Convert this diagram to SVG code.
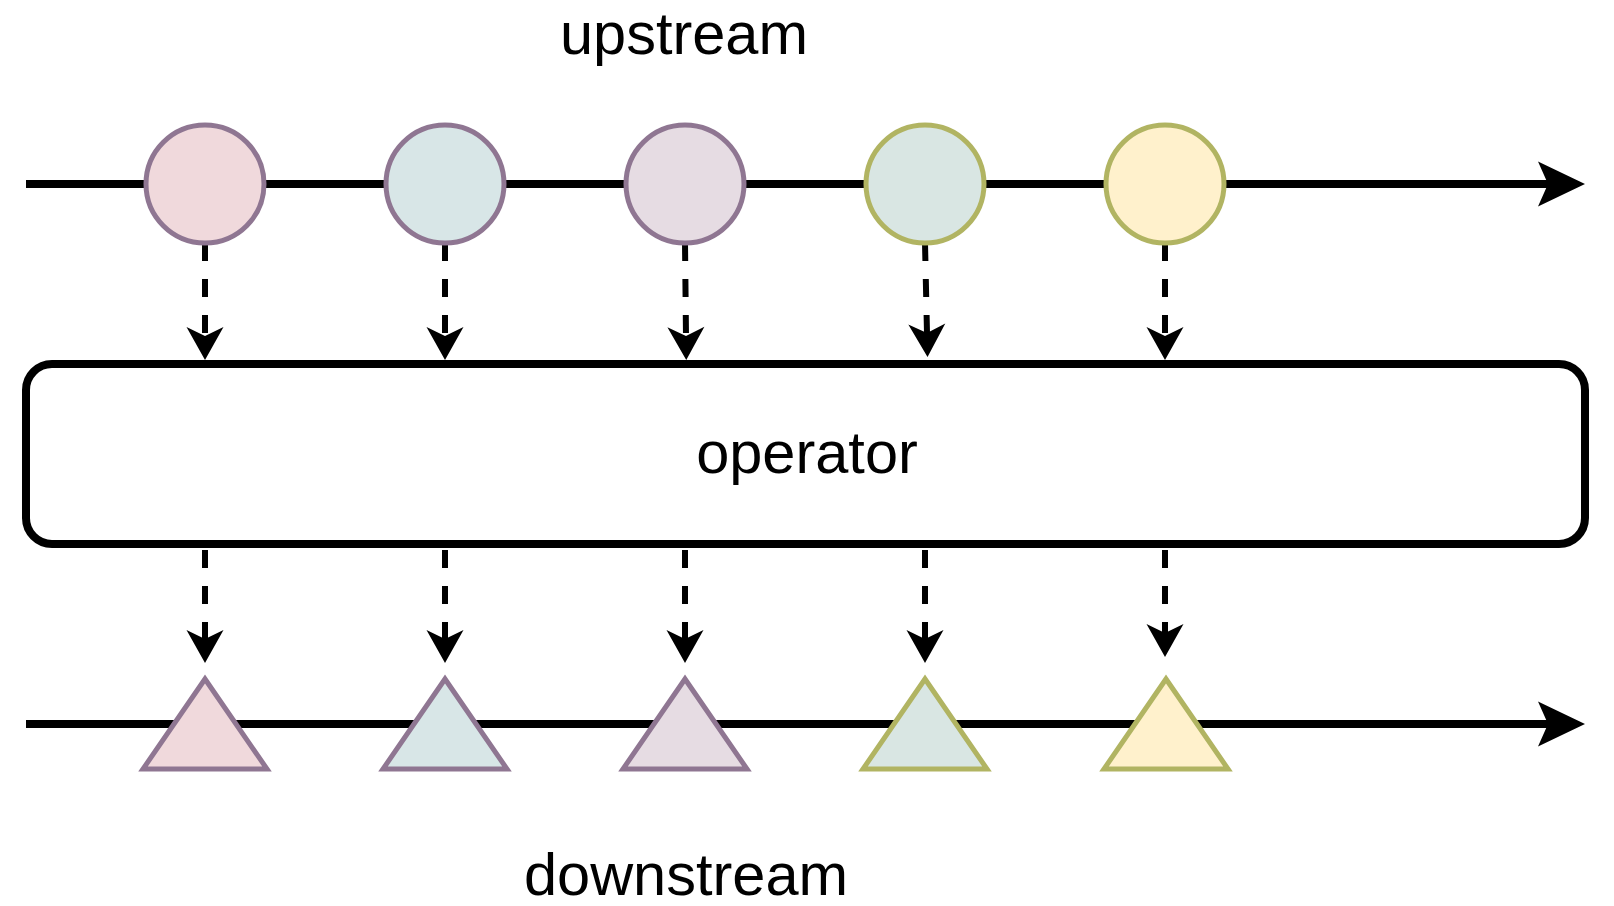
<svg xmlns="http://www.w3.org/2000/svg" width="1614" height="906" viewBox="0 0 1614 906">
<style>
.axis{stroke:#000;stroke-width:8;fill:none}
.flow{stroke:#000;stroke-width:6;fill:none;stroke-dasharray:18 18}
.lbl{font-family:"Liberation Sans",Arial,Helvetica,sans-serif;font-size:59.5px;fill:#000;text-anchor:middle}
.purple{stroke:#8f7692;stroke-width:5}
.olive{stroke:#b1b462;stroke-width:5}
</style>
<defs>
<marker id="bigArrow" markerUnits="userSpaceOnUse" viewBox="-48 -23 49 46" markerWidth="49" markerHeight="46" refX="-37" refY="0" orient="auto">
<path d="M0,0 L-47,-22.5 L-37,0 L-47,22.5 Z" fill="#000"/>
</marker>
<marker id="smallArrow" markerUnits="userSpaceOnUse" viewBox="-35 -19 36 38" markerWidth="36" markerHeight="38" refX="-24" refY="0" orient="auto">
<path d="M0,0 L-33,-18.5 L-24,0 L-33,18.5 Z" fill="#000"/>
</marker>
</defs>
<rect width="1614" height="906" fill="#fff"/>
<g id="timelines">
<line class="axis" x1="26" y1="184" x2="1548" y2="184" marker-end="url(#bigArrow)"/>
<line class="axis" x1="26" y1="724" x2="1548" y2="724" marker-end="url(#bigArrow)"/>
</g>
<g id="connectors">
<line class="flow" x1="205" y1="243" x2="205" y2="336" marker-end="url(#smallArrow)"/>
<line class="flow" x1="445" y1="243" x2="445" y2="336" marker-end="url(#smallArrow)"/>
<line class="flow" x1="685" y1="243" x2="686" y2="336" marker-end="url(#smallArrow)"/>
<line class="flow" x1="925" y1="243" x2="927" y2="333" marker-end="url(#smallArrow)"/>
<line class="flow" x1="1165" y1="243" x2="1165" y2="336" marker-end="url(#smallArrow)"/>
<line class="flow" x1="205" y1="550" x2="205" y2="639" marker-end="url(#smallArrow)"/>
<line class="flow" x1="445" y1="550" x2="445" y2="639" marker-end="url(#smallArrow)"/>
<line class="flow" x1="685" y1="550" x2="685" y2="639" marker-end="url(#smallArrow)"/>
<line class="flow" x1="925" y1="550" x2="925" y2="639" marker-end="url(#smallArrow)"/>
<line class="flow" x1="1165" y1="550" x2="1165" y2="633" marker-end="url(#smallArrow)"/>
</g>
<g id="up1"><circle class="purple" cx="205" cy="184" r="59" fill="#f0d9dc"/></g>
<g id="up2"><circle class="purple" cx="445" cy="184" r="59" fill="#d8e6e7"/></g>
<g id="up3"><circle class="purple" cx="685" cy="184" r="59" fill="#e6dce3"/></g>
<g id="up4"><circle class="olive" cx="925" cy="184" r="59" fill="#d9e6e3"/></g>
<g id="up5"><circle class="olive" cx="1165" cy="184" r="59" fill="#fff1cc"/></g>
<g id="operator">
<rect x="26" y="364" width="1559" height="180" rx="26" ry="26" fill="#fff" stroke="#000" stroke-width="8"/>
<text class="lbl" x="807" y="473">operator</text>
</g>
<g id="down1"><polygon class="purple" points="205,679 143,769 267,769" fill="#f0d9dc"/></g>
<g id="down2"><polygon class="purple" points="445,679 383,769 507,769" fill="#d8e6e7"/></g>
<g id="down3"><polygon class="purple" points="685,679 623,769 747,769" fill="#e6dce3"/></g>
<g id="down4"><polygon class="olive" points="925,679 863,769 987,769" fill="#d9e6e3"/></g>
<g id="down5"><polygon class="olive" points="1166,679 1104,769 1228,769" fill="#fff1cc"/></g>
<g id="labels">
<text class="lbl" x="684" y="54">upstream</text>
<text class="lbl" x="686" y="895">downstream</text>
</g>
</svg>
